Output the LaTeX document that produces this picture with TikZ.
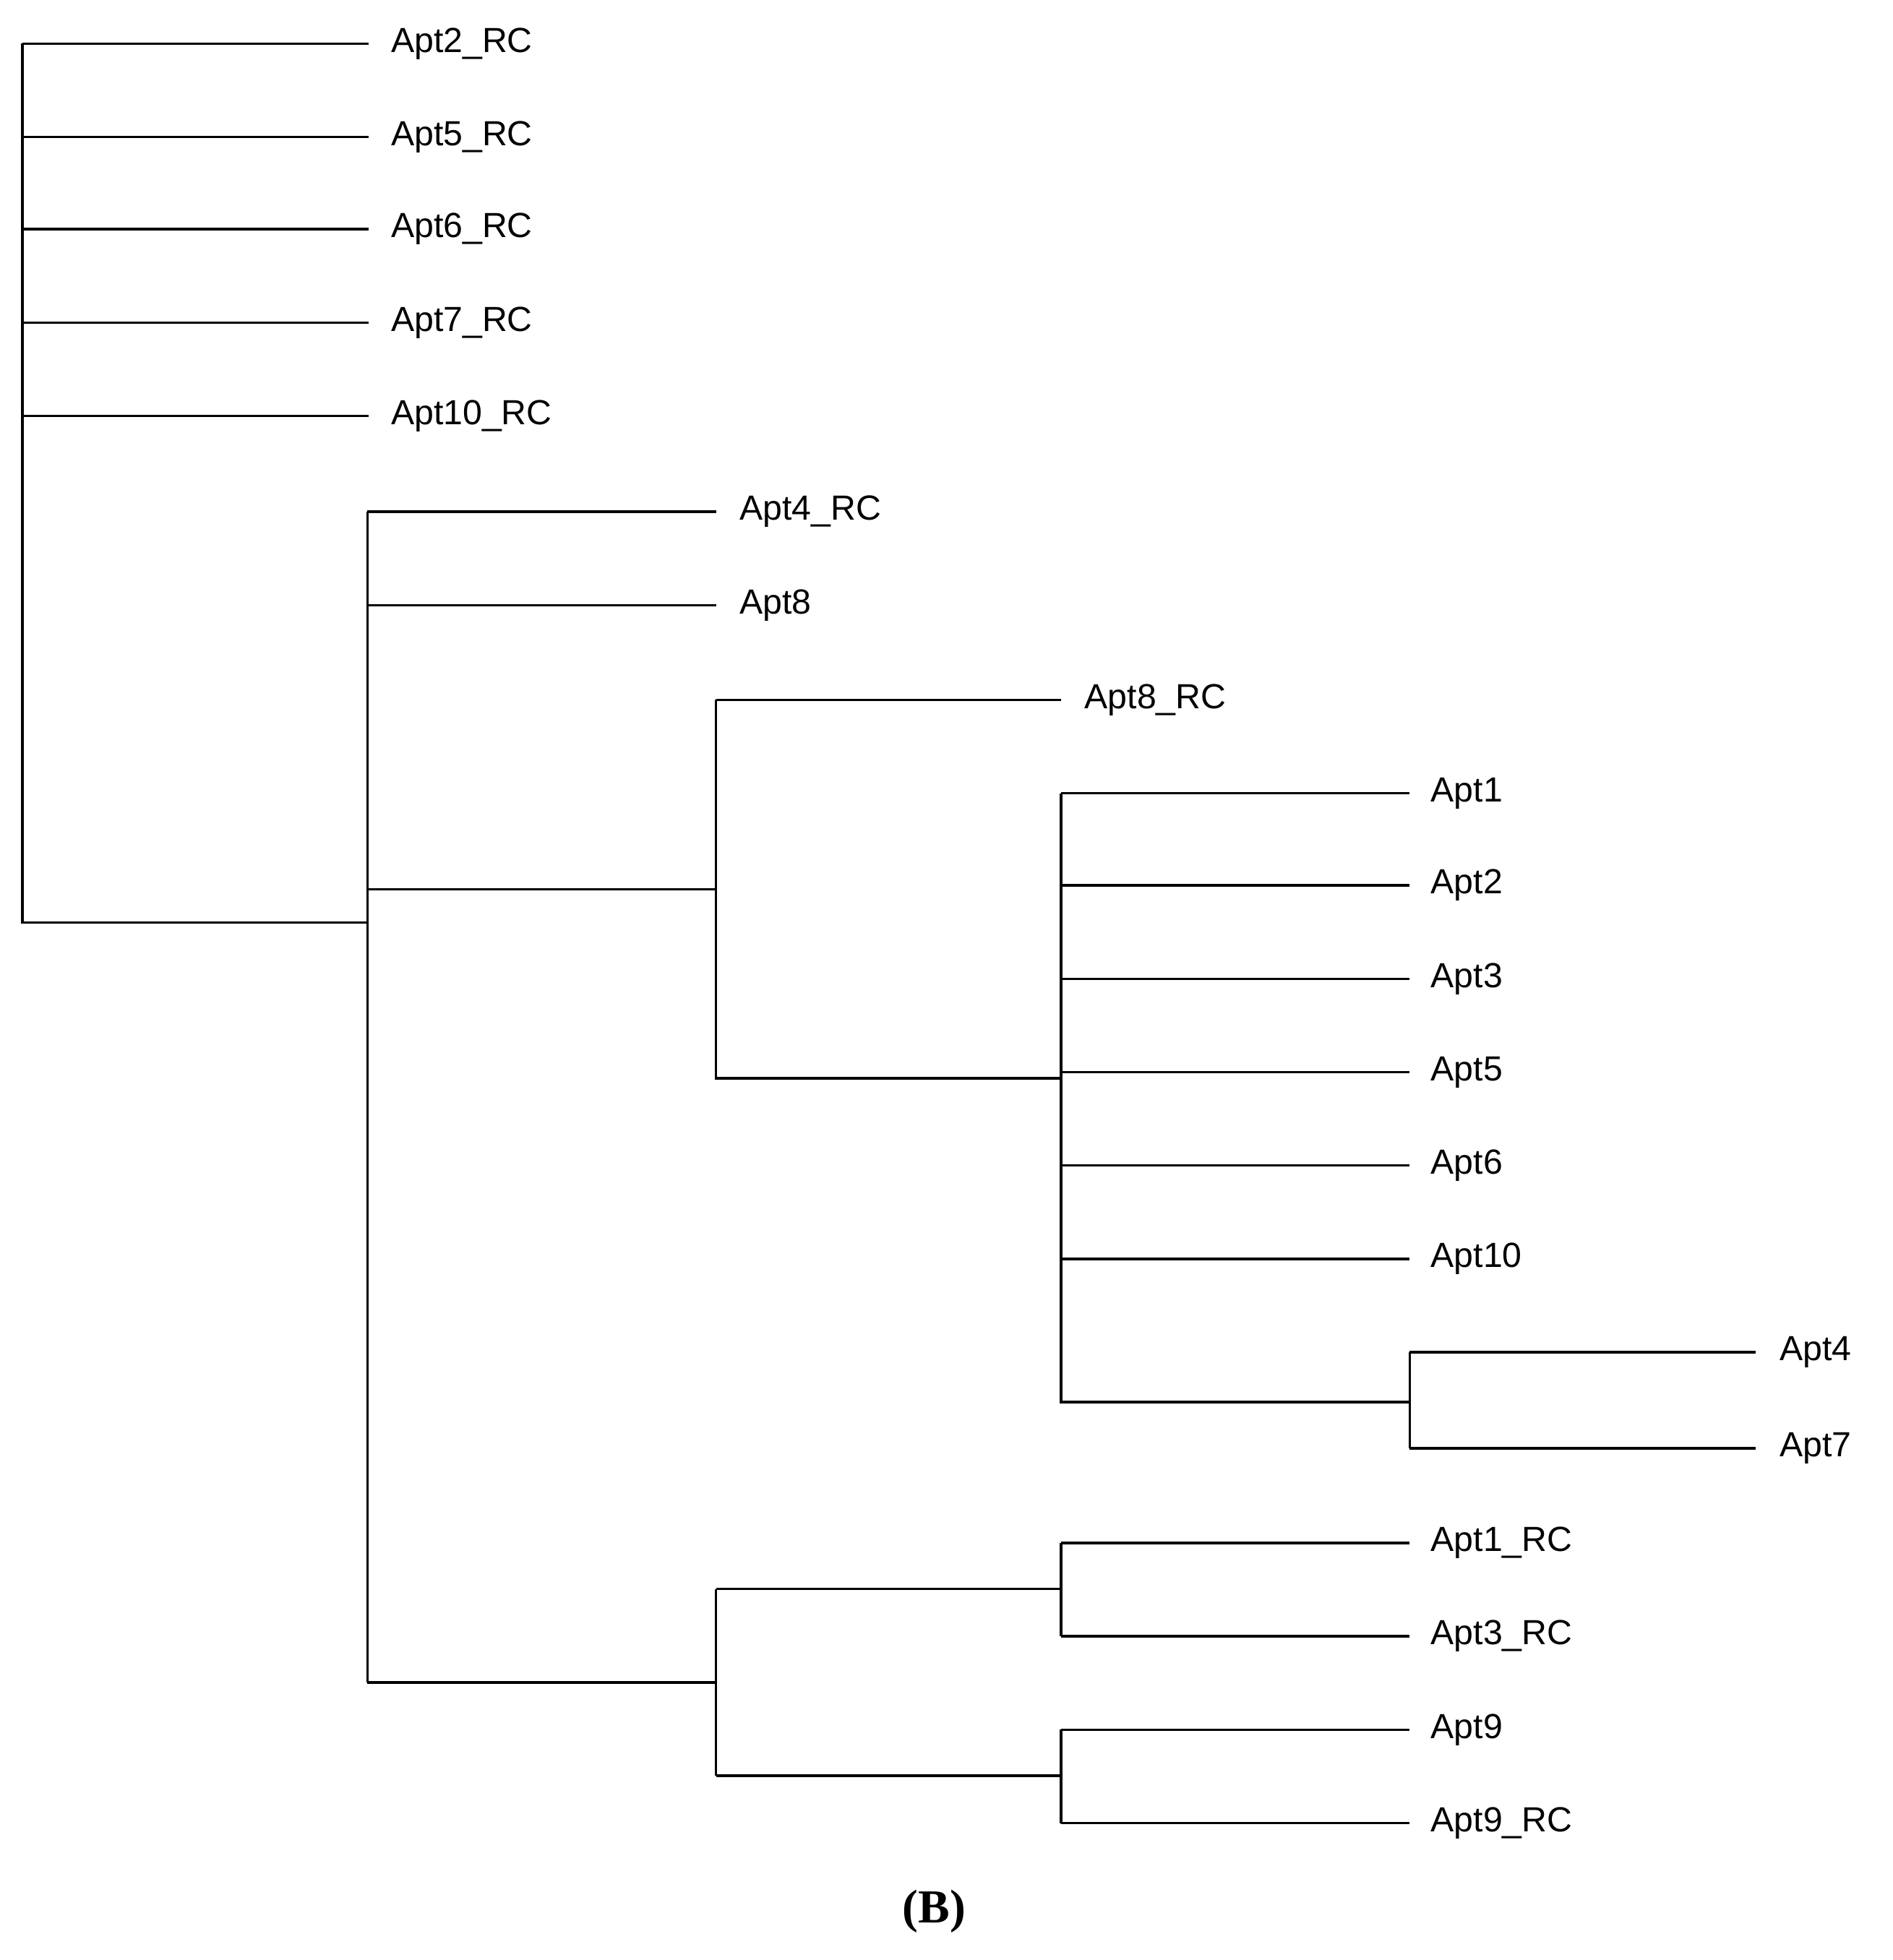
\documentclass[tikz,border=0pt]{standalone}
\usepackage{fontspec}
\setmainfont{Liberation Serif}
\newfontfamily\lblfont{Liberation Sans}
\begin{document}
\begin{tikzpicture}[x=1pt,y=-1pt,line width=2pt,
  lbl/.style={anchor=west,inner sep=0pt,font=\lblfont\fontsize{28}{32}\selectfont}]
\useasboundingbox (0,0) rectangle (1520,1574);
% leaf labels
\foreach \n/\t/\x/\y in {l1/Apt2\_RC/313/35,l2/Apt5\_RC/313/110,l3/Apt6\_RC/313/184,l4/Apt7\_RC/313/259,l5/Apt10\_RC/313/334,
 l6/Apt4\_RC/593/411,l7/Apt8/593/486,l8/Apt8\_RC/870/562,
 l9/Apt1/1148/637,l10/Apt2/1148/711,l11/Apt3/1148/786,l12/Apt5/1148/861,l13/Apt6/1148/936,l14/Apt10/1148/1011,
 l15/Apt4/1428/1086,l16/Apt7/1428/1163,
 l17/Apt1\_RC/1148/1239,l18/Apt3\_RC/1148/1314,l19/Apt9/1148/1389,l20/Apt9\_RC/1148/1464}
 {\node[lbl] (\n) at (\x,\y) {\t};}
% internal vertices
\coordinate (r) at (18,741);
\coordinate (A) at (295,741);
\coordinate (B) at (575,714);
\coordinate (C) at (575,1351);
\coordinate (D) at (852,866);
\coordinate (E) at (1132,1126);
\coordinate (F) at (852,1276);
\coordinate (G) at (852,1426);
% root
\draw (18,35) -- (18,741) -- (A);
\foreach \n in {l1,l2,l3,l4,l5} \draw (18,0 |- \n.west) -- ([xshift=-17pt]\n.west);
% A
\draw (295,411) -- (295,1351);
\foreach \n in {l6,l7} \draw (295,0 |- \n.west) -- ([xshift=-18pt]\n.west);
\draw (295,714) -- (B);
\draw (295,1351) -- (C);
% B
\draw (575,562) -- (575,866) -- (D);
\draw (575,562) -- ([xshift=-18pt]l8.west);
% D
\draw (852,637) -- (852,1126) -- (E);
\foreach \n in {l9,l10,l11,l12,l13,l14} \draw (852,0 |- \n.west) -- ([xshift=-16pt]\n.west);
% E
\draw (1132,1086) -- (1132,1163);
\foreach \n in {l15,l16} \draw (1132,0 |- \n.west) -- ([xshift=-18pt]\n.west);
% C
\draw (575,1276) -- (575,1426);
\draw (575,1276) -- (F);
\draw (575,1426) -- (G);
\draw (852,1239) -- (852,1314);
\draw (852,1389) -- (852,1464);
\foreach \n in {l17,l18,l19,l20} \draw (852,0 |- \n.west) -- ([xshift=-16pt]\n.west);
\node[font=\bfseries\fontsize{38}{44}\selectfont] (cap) at (750,1535) {(B)};
\end{tikzpicture}
\end{document}
